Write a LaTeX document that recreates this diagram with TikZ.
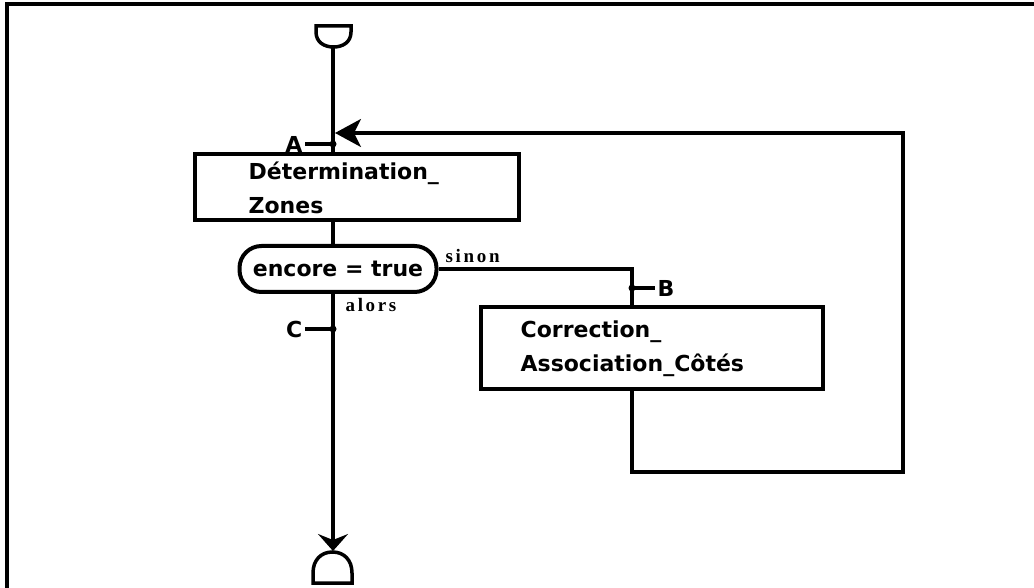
\documentclass[tikz,border=0pt]{standalone}
\usepackage{fontspec}
\setmainfont{DejaVu Sans}
\newfontfamily\lblfont[LetterSpace=14]{Liberation Serif}
\usetikzlibrary{arrows.meta}
\begin{document}
\begin{tikzpicture}[x=1pt,y=-1pt,line width=3.3pt,
  box/.style={draw,rectangle,line width=4pt,anchor=north west,inner sep=0pt},
  oval/.style={draw,rectangle,rounded corners=22pt,line width=4pt,minimum width=197pt,minimum height=46pt,inner sep=0pt,font=\fontsize{22}{26}\selectfont\bfseries},
  txt/.style={anchor=base west,inner sep=0pt,font=\fontsize{22}{26}\selectfont\bfseries},
  lbl/.style={inner sep=1pt,font=\fontsize{22}{26}\selectfont\bfseries},
  small/.style={anchor=base west,inner sep=0pt,font=\fontsize{19}{20}\lblfont\bfseries},
  dot/.style={circle,fill=black,inner sep=0pt,minimum size=7pt},
  bigtip/.style={-{Stealth[length=26pt,width=28pt,inset=7pt]}},
  endtip/.style={-{Stealth[length=17pt,width=30pt,inset=6pt]}}
]
\useasboundingbox (0,0) rectangle (1034,588);
% frame
\draw[line width=3.5pt] (7,588) -- (7,4) -- (1034,4);
% start and end symbols
\draw[line width=3.5pt] (316,26) -- (351,26) -- (351,32) .. controls (351,42) and (343,47) .. (333.5,47) .. controls (324,47) and (316,42) .. (316,32) -- cycle;
\draw[line width=3.5pt] (313,583) -- (352,583) -- (352,573) .. controls (352,560) and (344,552) .. (332.5,552) .. controls (321,552) and (313,560) .. (313,573) -- cycle;
\coordinate (top) at (333,47);
\coordinate (stopc) at (333,551);
% boxes
\node[box,minimum width=324pt,minimum height=66pt] (b1) at (193,152) {};
\node[txt] (t1a) at (247,180) {Détermination\_};
\node[txt] (t1b) at (247,214) {Zones};
\node[oval] (cond) at (338,269) {encore = true};
\node[box,minimum width=342pt,minimum height=82pt] (b2) at (479,305) {};
\node[txt] (t2a) at (519,337) {Correction\_};
\node[txt] (t2b) at (519,371) {Association\_Côtés};
% points
\coordinate (Ad) at (333,144);
\coordinate (Bd) at (632,288);
\coordinate (Cd) at (333,329);
\coordinate (lr) at (903,472);
\coordinate (ur) at (903,133);
\coordinate (join) at (335,133);
% connectors
\draw (top) -- (top |- b1.north);
\draw (b1.south -| top) -- (cond.north -| top);
\draw[endtip] (cond.south -| top) -- (stopc);
\draw (cond.east) -| (b2.north -| Bd);
\draw[bigtip] (b2.south -| Bd) |- (lr) -- (ur) -- (join);
% ticks and labels
\node[dot] (dA) at (Ad) {};
\node[dot] (dB) at (Bd) {};
\node[dot] (dC) at (Cd) {};
\draw (dA.center) -- ++(-28,0) node[lbl,anchor=east] (lA) {A};
\draw (dB.center) -- ++(23,0) node[lbl,anchor=west] (lB) {B};
\draw (dC.center) -- ++(-28,0) node[lbl,anchor=east] (lC) {C};
\node[small] (sinon) at (444,262) {sinon};
\node[small] (alors) at (344,312) {alors};
\end{tikzpicture}
\end{document}
